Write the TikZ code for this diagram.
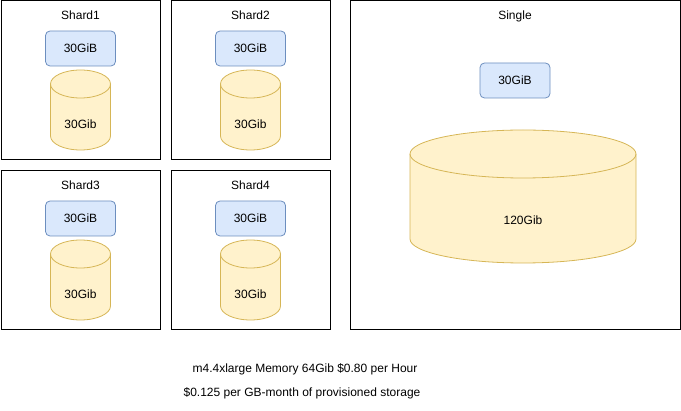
\documentclass[tikz,border=0pt]{standalone}
\usepackage{fontspec}
\setmainfont{Liberation Sans}
\usetikzlibrary{positioning}
\definecolor{memfill}{HTML}{DAE8FC}
\definecolor{memline}{HTML}{6C8EBF}
\definecolor{diskfill}{HTML}{FFF2CC}
\definecolor{diskline}{HTML}{D6B656}
% outline of a disk round its body node: #1 node, #2 x radius, #3 y radius
\newcommand{\diskshape}[3]{%
  \path[draw=diskline, fill=diskfill, line width=0.8pt] ([yshift=#3]#1.north west) -- ([yshift=#3]#1.south west)
    arc[start angle=180, end angle=360, x radius=#2, y radius=#3] -- ([yshift=#3]#1.north east)
    arc[start angle=0, end angle=180, x radius=#2, y radius=#3] -- cycle;
  \draw[diskline, line width=0.8pt] ([yshift=#3]#1.north west)
    arc[start angle=180, end angle=360, x radius=#2, y radius=#3];}
\begin{document}
\begin{tikzpicture}[x=1pt,y=-1pt,font=\fontsize{12}{14}\selectfont]
        \tikzset{frame/.style={draw, line width=1pt, rectangle, outer sep=0pt, minimum width=159pt, minimum height=159pt},
        mem/.style={draw=memline, fill=memfill, line width=0.8pt, rectangle, rounded corners=4.5pt, outer sep=0pt, minimum width=70pt, minimum height=35pt},
        disk/.style={rectangle, inner sep=0pt, outer sep=0pt, minimum width=60pt, minimum height=52pt},
        title/.style={inner sep=0pt},
        }
        \useasboundingbox (0,0) rectangle (681,411);
        %% shards
        \node [frame] (shard1) at (80.5,80.5) {};
        \node [title, below=18.3pt of shard1.north, anchor=base] (shard1t) {Shard1};
        \node [mem, below=30pt of shard1.north] (mem1) {30GiB};
        \node [disk, below=32pt of mem1] (disk1) {};
        \node [frame] (shard2) at (250.5,80.5) {};
        \node [title, below=18.3pt of shard2.north, anchor=base] (shard2t) {Shard2};
        \node [mem, below=30pt of shard2.north] (mem2) {30GiB};
        \node [disk, below=32pt of mem2] (disk2) {};
        \node [frame] (shard3) at (80.5,250.5) {};
        \node [title, below=18.3pt of shard3.north, anchor=base] (shard3t) {Shard3};
        \node [mem, below=30pt of shard3.north] (mem3) {30GiB};
        \node [disk, below=32pt of mem3] (disk3) {};
        \node [frame] (shard4) at (250.5,250.5) {};
        \node [title, below=18.3pt of shard4.north, anchor=base] (shard4t) {Shard4};
        \node [mem, below=30pt of shard4.north] (mem4) {30GiB};
        \node [disk, below=32pt of mem4] (disk4) {};
        %% single instance
        \node [frame, minimum width=330pt, minimum height=329pt] (single) at (515,165.5) {};
        \node [title, below=18.3pt of single.north, anchor=base] (singlet) {Single};
        \node [mem, below=62pt of single.north] (mem5) {30GiB};
        \node [disk, minimum width=226pt, minimum height=85pt] (disk5) at (523,220.5) {};
        %% disk outlines, labels on top
        \diskshape{disk1}{30pt}{14pt}
        \diskshape{disk2}{30pt}{14pt}
        \diskshape{disk3}{30pt}{14pt}
        \diskshape{disk4}{30pt}{14pt}
        \diskshape{disk5}{113pt}{24pt}
        \node (disk1l) at (disk1) {30Gib};
        \node (disk2l) at (disk2) {30Gib};
        \node (disk3l) at (disk3) {30Gib};
        \node (disk4l) at (disk4) {30Gib};
        \node (disk5l) at (disk5) {120Gib};
        %% pricing notes
        \node [title, anchor=base] (price) at (305,373) {m4.4xlarge Memory 64Gib \$0.80 per Hour};
        \node [title, anchor=base] (storage) at (302,397) {\$0.125 per GB-month of provisioned storage};
\end{tikzpicture}
\end{document}
